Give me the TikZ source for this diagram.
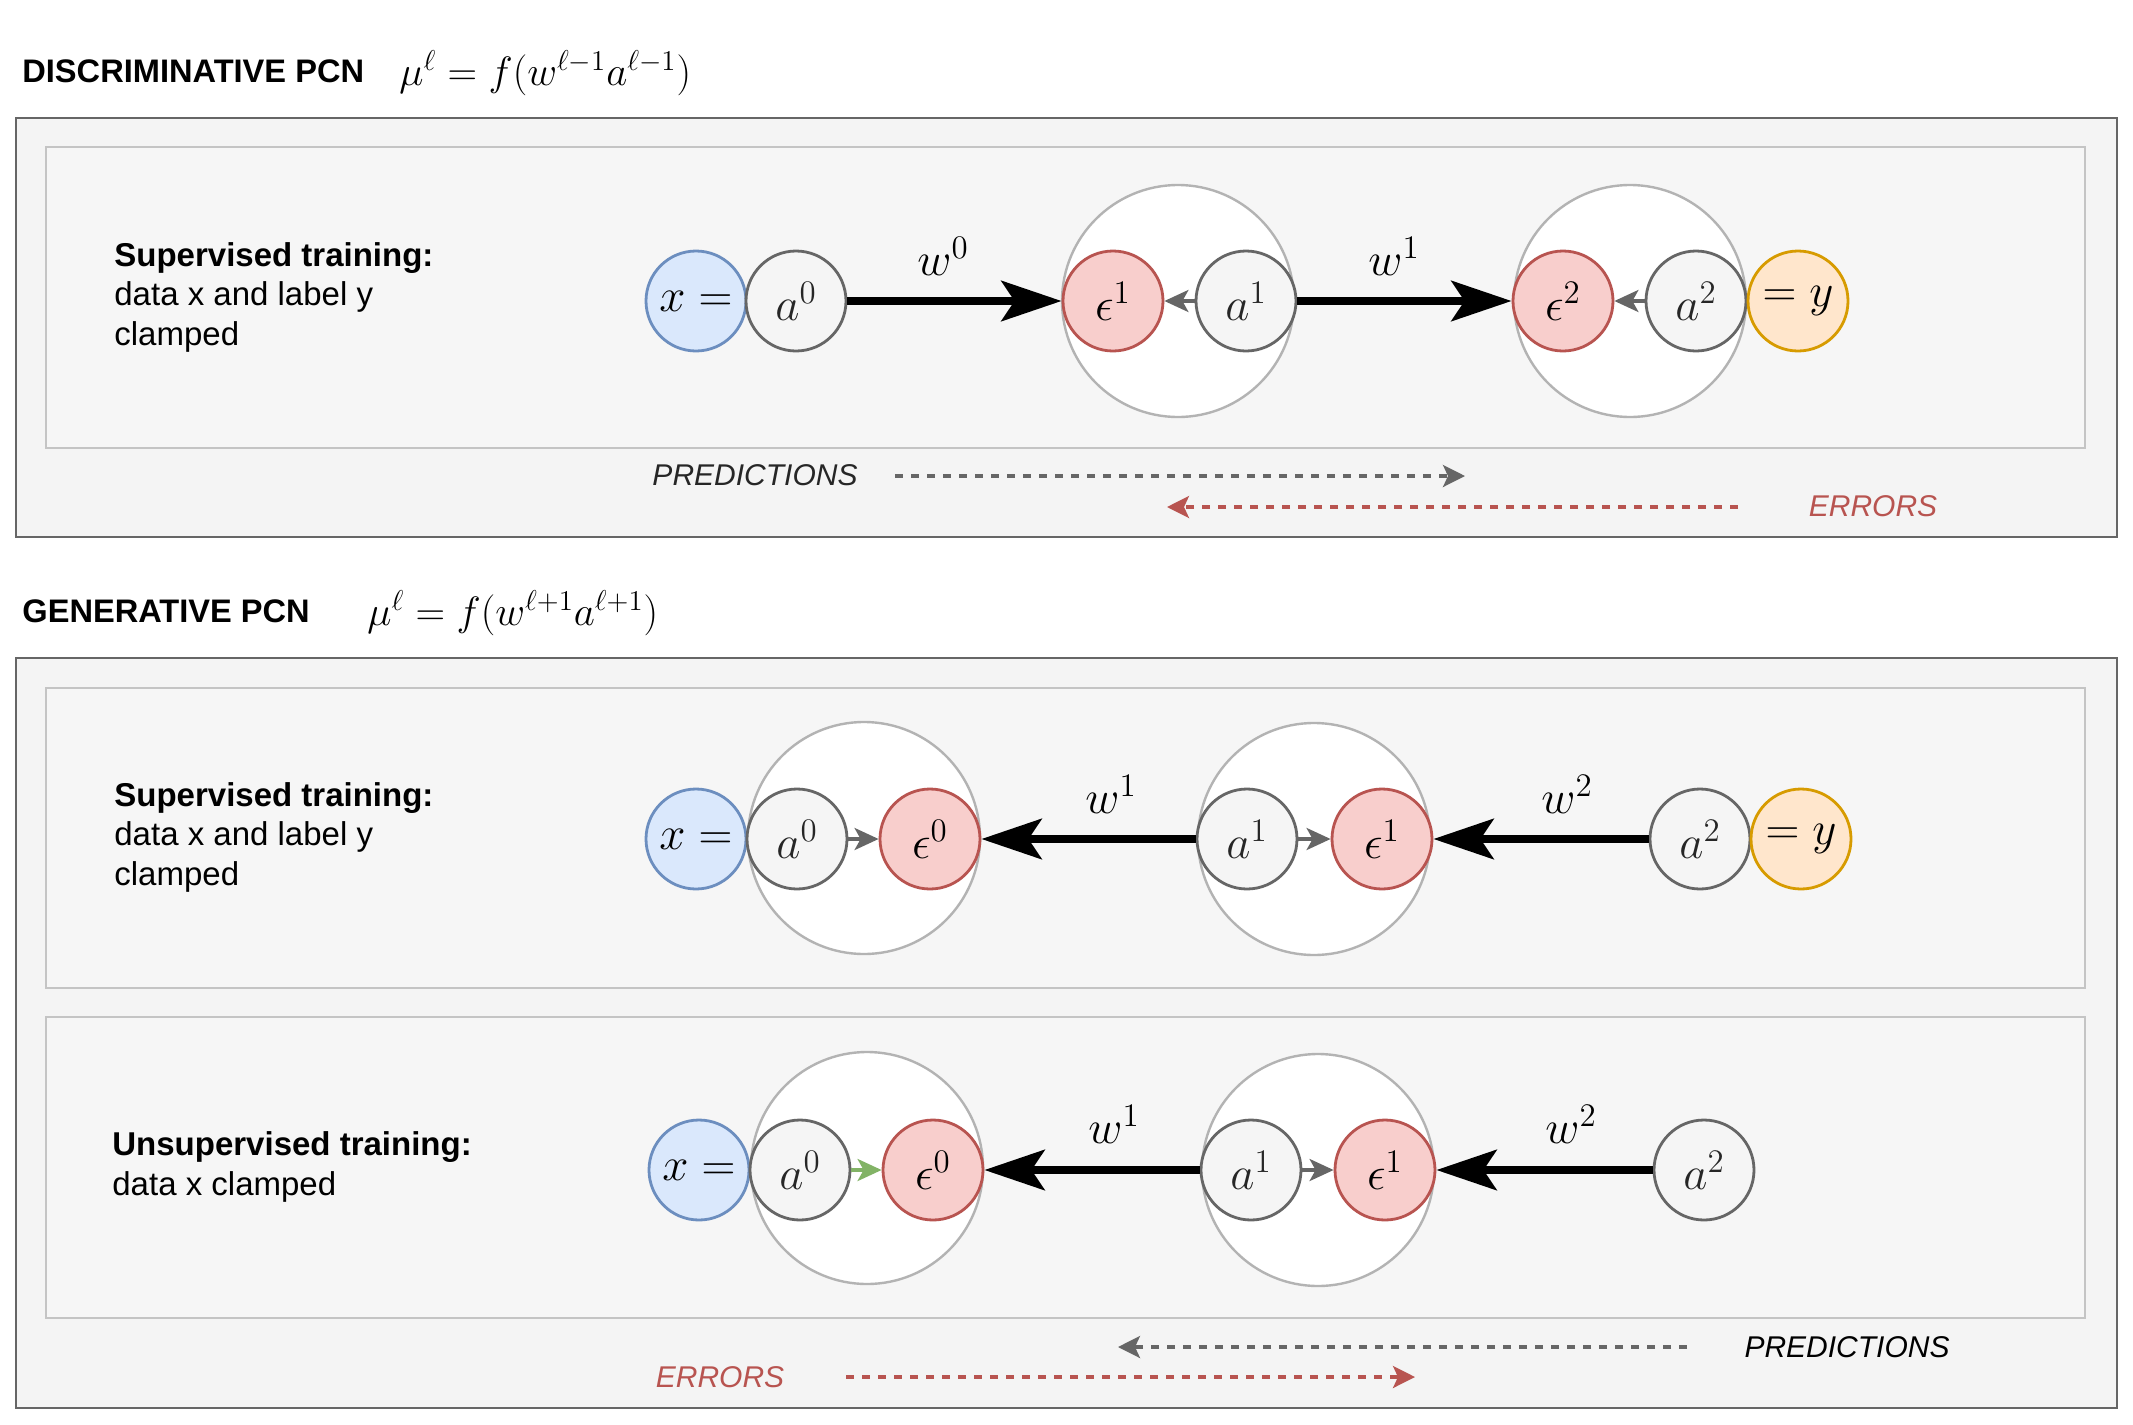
\RequirePackage{fix-cm}
\documentclass[tikz,border=0pt]{standalone}
\usepackage[no-math]{fontspec}
\setmainfont{Liberation Sans}
\usetikzlibrary{arrows.meta}
\definecolor{outerline}{HTML}{666666}
\definecolor{outerfill}{HTML}{F4F4F4}
\definecolor{innerline}{HTML}{C4C4C4}
\definecolor{innerfill}{HTML}{F6F6F6}
\definecolor{actline}{HTML}{666666}
\definecolor{actfill}{HTML}{F5F5F5}
\definecolor{acttext}{HTML}{262626}
\definecolor{errline}{HTML}{B85450}
\definecolor{errfill}{HTML}{F8CECC}
\definecolor{xline}{HTML}{6C8EBF}
\definecolor{xfill}{HTML}{DAE8FC}
\definecolor{yline}{HTML}{D79B00}
\definecolor{yfill}{HTML}{FFE6CC}
\definecolor{groupline}{HTML}{B3B3B3}
\definecolor{greenarrow}{HTML}{82B366}
\definecolor{errtext}{HTML}{B85450}
\begin{document}
\begin{tikzpicture}[x=0.5pt,y=-0.5pt,
  outerbox/.style={draw=outerline, fill=outerfill, line width=1.2pt},
  innerbox/.style={draw=innerline, fill=innerfill, line width=1.1pt},
  unit/.style={circle, minimum size=50pt, inner sep=0pt, line width=1.4pt, font=\fontsize{23.5}{28}\selectfont},
  actnode/.style={unit, draw=actline, fill=actfill, text=acttext},
  errnode/.style={unit, draw=errline, fill=errfill},
  xnode/.style={unit, draw=xline, fill=xfill},
  ynode/.style={unit, draw=yline, fill=yfill},
  groupnode/.style={circle, minimum size=116pt, inner sep=0pt, draw=groupline, fill=white, line width=1.2pt},
  weight/.style={-{Stealth[length=30pt,width=20pt,inset=6.5pt]}, line width=4.4pt, draw=black},
  link/.style={-{Stealth[length=12pt,width=11pt,inset=3pt]}, line width=1.7pt, draw=actline},
  flow/.style={dash pattern=on 4pt off 4pt, line width=1.6pt, -{Stealth[length=11pt,width=11pt,inset=2.5pt]}},
  wlabel/.style={inner sep=0pt, font=\fontsize{23.5}{28}\selectfont},
  body/.style={anchor=west, align=left, inner sep=0pt, font=\fontsize{16.5}{19.75}\selectfont},
  head/.style={anchor=west, inner sep=0pt, font=\fontsize{16.3}{19}\selectfont\bfseries},
  formula/.style={anchor=west, inner sep=0pt, font=\fontsize{20.5}{24}\selectfont},
  tag/.style={inner sep=0pt, font=\fontsize{15}{18}\selectfont\itshape},
]
\useasboundingbox (0,0) rectangle (2133,1425);
\fill[white] (0,0) rectangle (2133,1425);

% ---------------- DISCRIMINATIVE ----------------
\node[head] (t1) at (22,71) {DISCRIMINATIVE PCN};
\node[formula] (f1) at (399,73) {$\mu^{\ell} = f(w^{\ell-1}a^{\ell-1})$};
\draw[outerbox] (16,118) rectangle (2117,537);
\draw[innerbox] (46,147) rectangle (2085,448);
\node[body] (d1) at (114,297) {\textbf{Supervised training:}\\data x and label y\\clamped};

\node[groupnode] (dg1) at (1178,301) {};
\node[groupnode] (dg2) at (1630,301) {};
\node[xnode] (dx) at (696,301) {$x =$};
\node[actnode] (da0) at (796,301) {$a^0$};
\node[errnode] (de1) at (1113,301) {$\epsilon^1$};
\node[actnode] (da1) at (1246,301) {$a^1$};
\node[errnode] (de2) at (1563,301) {$\epsilon^2$};
\node[actnode] (da2) at (1696,301) {$a^2$};
\node[ynode] (dy) at (1798,301) {$= y$};
\draw[weight] (da0) -- (de1);
\draw[weight] (da1) -- (de2);
\draw[link] (da1) -- (de1);
\draw[link] (da2) -- (de2);
\node[wlabel] (dw0) at (943,256) {$w^0$};
\node[wlabel] (dw1) at (1394,256) {$w^1$};

\node[tag, text=acttext] (dpt) at (755,475) {PREDICTIONS};
\coordinate (dps) at (895,476);
\coordinate (dpe) at (1465,476);
\draw[flow, draw=actline] (dps) -- (dpe);
\node[tag, text=errtext] (det) at (1873,506) {ERRORS};
\coordinate (des) at (1738,507);
\coordinate (dee) at (1167,507);
\draw[flow, draw=errline] (des) -- (dee);

% ---------------- GENERATIVE ----------------
\node[head] (t2) at (22,611) {GENERATIVE PCN};
\node[formula] (f2) at (367,613) {$\mu^{\ell} = f(w^{\ell+1}a^{\ell+1})$};
\draw[outerbox] (16,658) rectangle (2117,1408);
\draw[innerbox] (46,688) rectangle (2085,988);
\draw[innerbox] (46,1017) rectangle (2085,1318);

% supervised
\node[body] (g1) at (114,837) {\textbf{Supervised training:}\\data x and label y\\clamped};
\node[groupnode] (sg0) at (864,838) {};
\node[groupnode] (sg1) at (1314,839) {};
\node[xnode] (sx) at (696,839) {$x =$};
\node[actnode] (sa0) at (797,839) {$a^0$};
\node[errnode] (se0) at (930,839) {$\epsilon^0$};
\node[actnode] (sa1) at (1247,839) {$a^1$};
\node[errnode] (se1) at (1382,839) {$\epsilon^1$};
\node[actnode] (sa2) at (1700,839) {$a^2$};
\node[ynode] (sy) at (1801,839) {$= y$};
\draw[weight] (sa1) -- (se0);
\draw[weight] (sa2) -- (se1);
\draw[link] (sa0) -- (se0);
\draw[link] (sa1) -- (se1);
\node[wlabel] (sw1) at (1111,794) {$w^1$};
\node[wlabel] (sw2) at (1567,794) {$w^2$};

% unsupervised
\node[body] (g2) at (112,1167) {\textbf{Unsupervised training:}\\data x clamped};
\node[groupnode] (ug0) at (867,1168) {};
\node[groupnode] (ug1) at (1318,1170) {};
\node[xnode] (ux) at (699,1170) {$x =$};
\node[actnode] (ua0) at (800,1170) {$a^0$};
\node[errnode] (ue0) at (933,1170) {$\epsilon^0$};
\node[actnode] (ua1) at (1251,1170) {$a^1$};
\node[errnode] (ue1) at (1385,1170) {$\epsilon^1$};
\node[actnode] (ua2) at (1704,1170) {$a^2$};
\draw[weight] (ua1) -- (ue0);
\draw[weight] (ua2) -- (ue1);
\draw[link, draw=greenarrow] (ua0) -- (ue0);
\draw[link] (ua1) -- (ue1);
\node[wlabel] (uw1) at (1114,1124) {$w^1$};
\node[wlabel] (uw2) at (1571,1124) {$w^2$};

\node[tag, text=black] (gpt) at (1847,1347) {PREDICTIONS};
\coordinate (gps) at (1687,1347);
\coordinate (gpe) at (1118,1347);
\draw[flow, draw=actline] (gps) -- (gpe);
\node[tag, text=errtext] (get) at (720,1377) {ERRORS};
\coordinate (ges) at (846,1377);
\coordinate (gee) at (1415,1377);
\draw[flow, draw=errline] (ges) -- (gee);
\end{tikzpicture}
\end{document}
